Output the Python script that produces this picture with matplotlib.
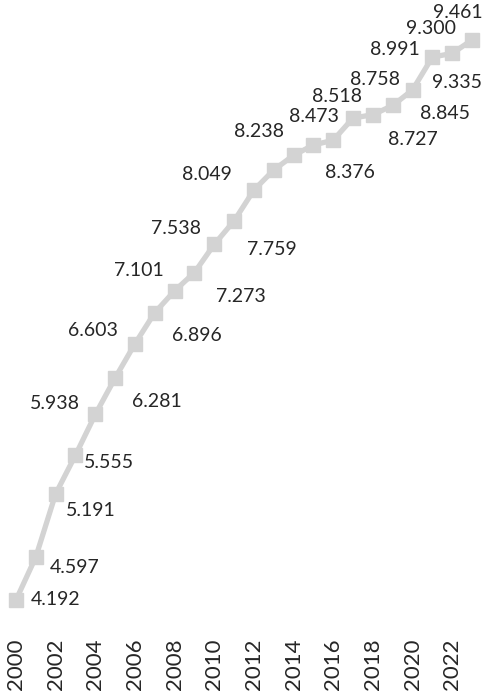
import matplotlib
matplotlib.use("Agg")
import matplotlib.pyplot as plt

years = list(range(2000, 2024))
values = [4.192, 4.597, 5.191, 5.555, 5.938, 6.281, 6.603, 6.896, 7.101, 7.273,
          7.538, 7.759, 8.049, 8.238, 8.376, 8.473, 8.518, 8.727, 8.758, 8.845,
          8.991, 9.300, 9.335, 9.461]
tick_years = list(range(2000, 2023, 2))

# label offsets in pixels (dx, dy) with dy positive downward
label_offsets = [(40, 0), (39, 11), (35, 17), (34, 7), (-40, -11), (42, 24),
                 (-42, -13), (42, 23), (-36, -20), (46, 24), (-38, -16), (38, 29),
                 (-47, -16), (-15, -38), (56, 17), (1, -29), (4, -44), (60, 21),
                 (2, -35), (52, 8), (-18, -40), (-1, -29), (5, 29), (-14, -28)]

W, H = 482, 692
fig = plt.figure(figsize=(W / 100, H / 100), dpi=100)
bottom_px = 630
ax = fig.add_axes([0, 1 - bottom_px / H, 1, bottom_px / H])

font = "Lato"
line_color = "#d3d3d3"
ax.plot(years, values, color=line_color, lw=3.8, marker="s", ms=9.5,
        mec=line_color, mfc=line_color, solid_joinstyle="miter", zorder=2)

for yr, v, (dx, dy) in zip(years, values, label_offsets):
    ax.annotate(f"{v:.3f}", (yr, v), xytext=(dx, -dy), textcoords="offset pixels",
                ha="center", va="center", fontsize=14, family=font, color="#262626")

# layout: 2000 at x=16px, 2023 at x=472px; 4.192 at y=600px, 9.461 at y=40px
xs = (472 - 16) / (years[-1] - years[0])
ax.set_xlim(years[0] - 16 / xs, years[0] + (W - 16) / xs)
ys = (600 - 40) / (values[-1] - values[0])
ax.set_ylim(values[0] - (bottom_px - 600) / ys, values[-1] + 40 / ys)

ax.set_xticks(tick_years)
ax.set_xticklabels([str(t) for t in tick_years], rotation=90, fontsize=16,
                   family=font, color="#262626")
ax.tick_params(axis="x", length=0, pad=6)
ax.set_yticks([])
for s in ax.spines.values():
    s.set_visible(False)
ax.patch.set_alpha(0)

fig.savefig("out.png", dpi=100)
